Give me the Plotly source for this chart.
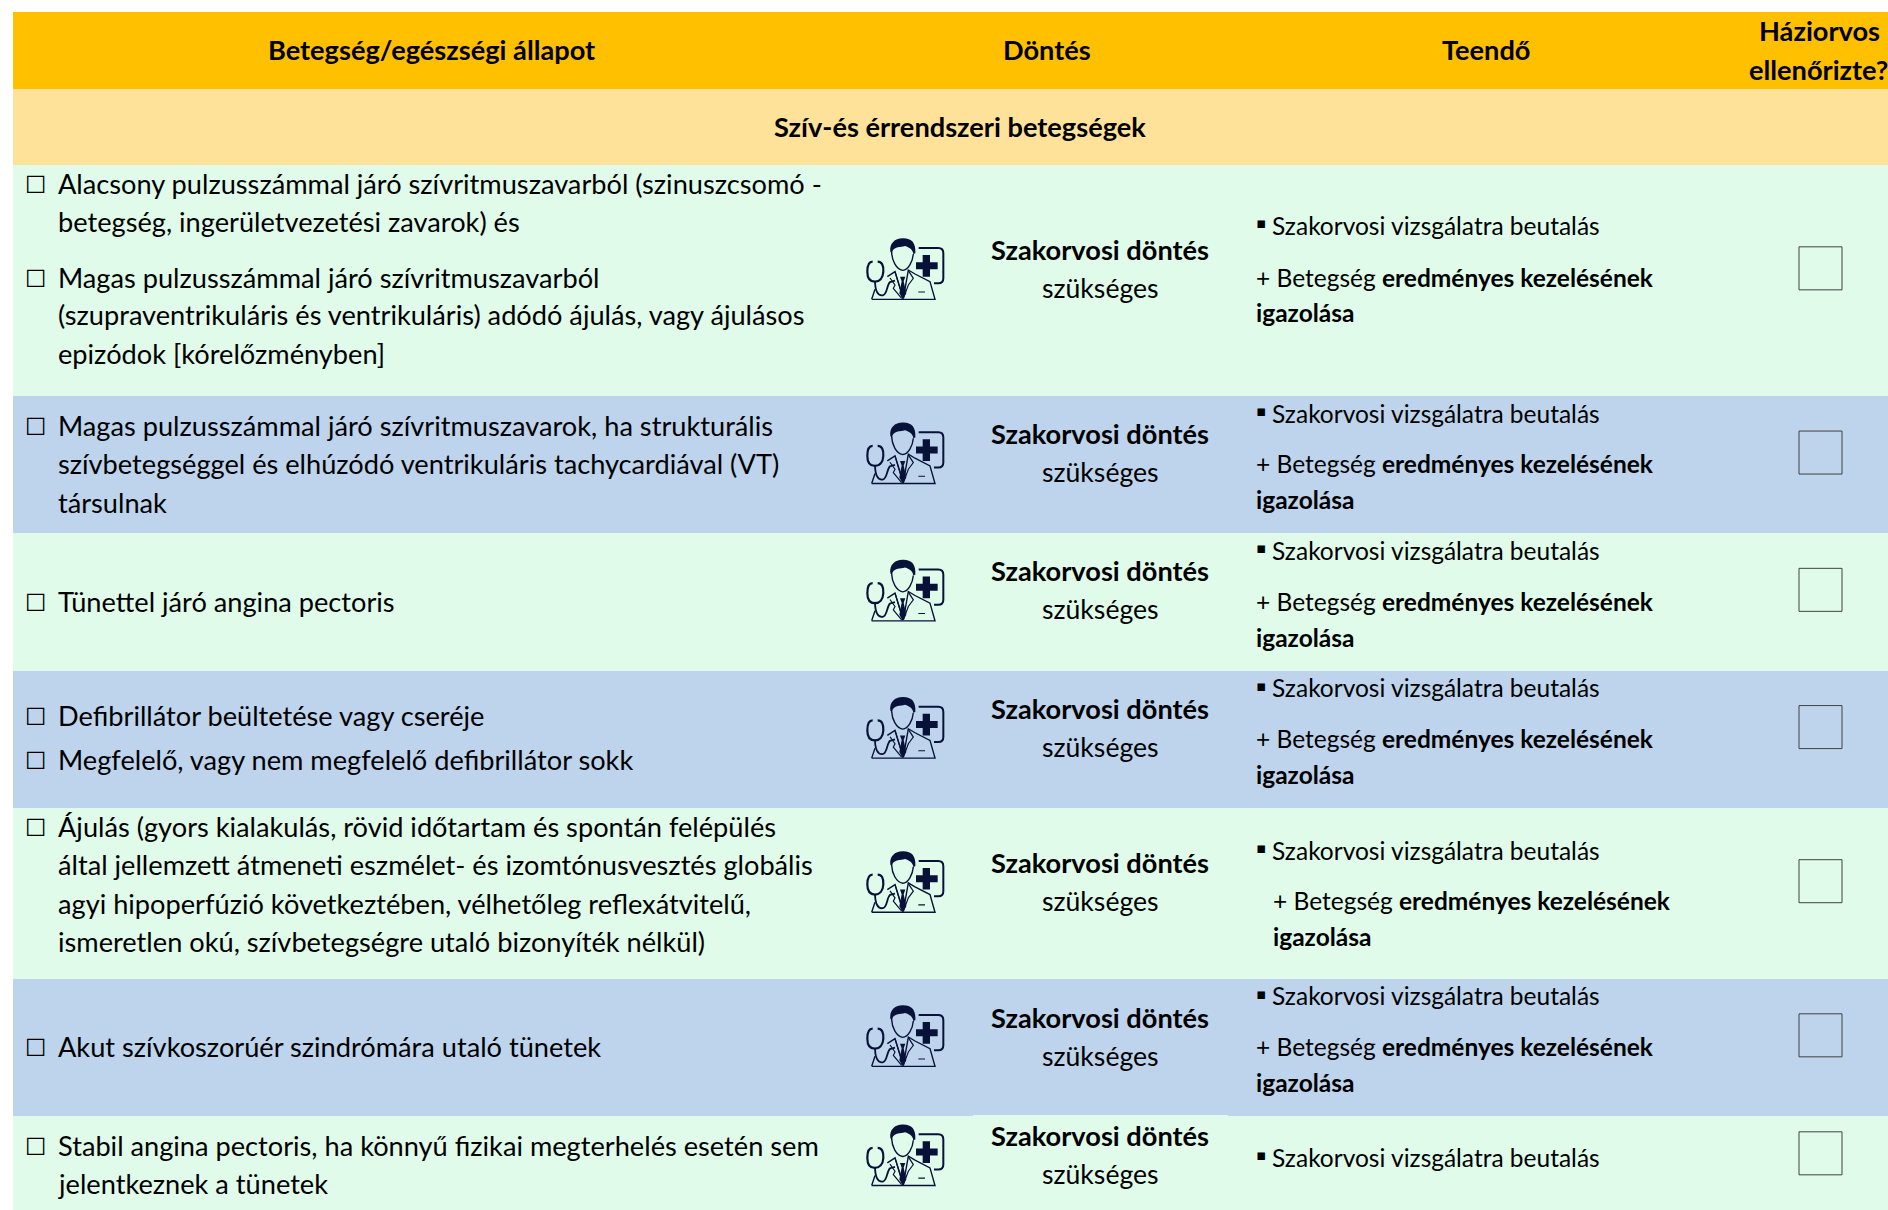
import plotly.graph_objects as go

# ---------- content ----------
headers = ["Betegség/egészségi állapot", "Döntés", "Teendő", "Háziorvos", "ellenőrizte?"]
section_title = "Szív-és érrendszeri betegségek"
decision_bold = "Szakorvosi döntés"
decision_plain = "szükséges"
action_referral = "Szakorvosi vizsgálatra beutalás"
action_proof_1 = "+ Betegség <b>eredményes kezelésének</b>"
action_proof_2 = "<b>igazolása</b>"
bullet_glyph = "▪"
check_glyph = "☐"

condition_1 = [(True, "Alacsony pulzusszámmal járó szívritmuszavarból (szinuszcsomó -"),
               (False, "betegség, ingerületvezetési zavarok) és"),
               (True, "Magas pulzusszámmal járó szívritmuszavarból"),
               (False, "(szupraventrikuláris és ventrikuláris) adódó ájulás, vagy ájulásos"),
               (False, "epizódok [kórelőzményben]")]
condition_2 = [(True, "Magas pulzusszámmal járó szívritmuszavarok, ha strukturális"),
               (False, "szívbetegséggel és elhúzódó ventrikuláris tachycardiával (VT)"),
               (False, "társulnak")]
condition_3 = [(True, "Tünettel járó angina pectoris")]
condition_4 = [(True, "Defibrillátor beültetése vagy cseréje"),
               (True, "Megfelelő, vagy nem megfelelő defibrillátor sokk")]
condition_5 = [(True, "Ájulás (gyors kialakulás, rövid időtartam és spontán felépülés"),
               (False, "által jellemzett átmeneti eszmélet- és izomtónusvesztés globális"),
               (False, "agyi hipoperfúzió következtében, vélhetőleg reflexátvitelű,"),
               (False, "ismeretlen okú, szívbetegségre utaló bizonyíték nélkül)")]
condition_6 = [(True, "Akut szívkoszorúér szindrómára utaló tünetek")]
condition_7 = [(True, "Stabil angina pectoris, ha könnyű fizikai megterhelés esetén sem"),
               (False, "jelentkeznek a tünetek")]
conditions = [condition_1, condition_2, condition_3, condition_4, condition_5, condition_6, condition_7]
has_proof = [True, True, True, True, True, True, False]

# ---------- layout (page pixels) ----------
S = 1888 / 1568
W, H = 1888, 1210
LEFT = 13
band_edges = [12, 89, 165, 396, 533, 671, 808, 979, 1116, 1210]
COL_HEADER, COL_SECTION, COL_GREEN, COL_BLUE = "#FFC000", "#FFE299", "#E0FBEA", "#BDD4EC"
band_colors = [COL_HEADER, COL_SECTION, COL_GREEN, COL_BLUE, COL_GREEN, COL_BLUE, COL_GREEN, COL_BLUE, COL_GREEN]
INK = "#000000"
FONT = "Lato"
SIZE_L, SIZE_R, SIZE_H, SIZE_D = 27.2, 24.5, 27.2, 26.6

cond_y = [[153, 185, 231, 262, 294], [354, 386, 418], [500], [595, 632],
          [687, 719, 751, 783], [870], [952, 984]]
dec_y = [(208, 240), (361, 393), (475, 507), (589, 621), (717, 749), (846, 878), (944, 976)]
act_y = [(188, 231, 260), (344, 386, 416), (458, 500, 530), (572, 614, 644),
         (707, 749, 779), (828, 870, 900), (962,)]
act_indent = [0, 0, 0, 0, 14, 0, 0]
box_top = [205, 358, 472, 586, 714, 842, 940]
icon_top = [198, 351, 465, 579, 707, 835, 934]
TXT_DY = -1.0

fig = go.Figure()
shapes, notes = [], []

def text(x, y, s, size, anchor="left", font=FONT):
    notes.append(dict(x=x, y=y, text=s, showarrow=False, xanchor=anchor, yanchor="middle",
                      xref="x", yref="y", borderpad=0,
                      font=dict(family=font, size=size, color=INK)))

for i, col in enumerate(band_colors):
    shapes.append(dict(type="rect", x0=LEFT, x1=W, y0=band_edges[i], y1=band_edges[i + 1],
                       fillcolor=col, line_width=0, layer="below"))
# pale seam above the last decision cell
shapes.append(dict(type="rect", x0=973, x1=1228, y0=1115, y1=1117, fillcolor=COL_GREEN,
                   line_width=0, layer="below"))

text(431, 49, "<b>%s</b>" % headers[0], SIZE_H, "center")
text(1047, 49, "<b>%s</b>" % headers[1], SIZE_H, "center")
text(1486, 49, "<b>%s</b>" % headers[2], SIZE_H, "center")
text(1819, 30.5, "<b>%s</b>" % headers[3], SIZE_H, "center")
text(1818, 69.5, "<b>%s</b>" % headers[4], SIZE_H, "center")
text(960, 126, "<b>%s</b>" % section_title, SIZE_H, "center")

NAVY = "#081238"
def P(ox, oy, d):
    """translate an icon path written in icon units (1/3 px) to page coords"""
    out = []
    for tok in d.split():
        if tok.isalpha():
            out.append(tok)
        else:
            a, b = tok.split(",")
            out.append("%.2f,%.2f" % (ox + float(a) / 3, oy + float(b) / 3))
    return " ".join(out)

ICON_FILLED = [
    "M 151,125 C 148,100 165,84 190,85 C 215,86 228,98 226,130 L 220,132 C 218,118 208,112 195,108 C 180,112 165,110 158,122 L 156,132 Z",
    "M 248,135 L 270,135 L 270,157 L 293,157 L 293,178 L 270,178 L 270,200 L 248,200 L 248,178 L 228,178 L 228,157 L 248,157 Z",
    "M 180,200 L 196,200 L 191,214 L 199,250 L 188,268 L 178,250 L 185,214 Z",
]
ICON_STROKED = [
    ("M 236,114 L 295,114 C 305,114 310,120 310,130 L 310,205 C 310,215 305,220 295,220 L 282,220", 2.0),
    ("M 155,128 C 156,150 168,178 188,181 C 205,180 218,155 220,132", 1.4),
    ("M 113,155 C 125,155 131,165 130,185 C 129,205 118,215 105,215 C 90,215 82,205 82,185 C 82,165 88,155 98,155", 2.2),
    ("M 105,215 C 106,240 112,258 128,256 C 142,254 140,225 150,216 L 165,212", 1.8),
    ("M 95,268 L 285,268 L 270,215 L 225,192 L 205,180 L 190,265 L 165,185 L 142,200 M 95,268 L 105,238", 1.4),
    ("M 165,185 L 188,262 M 205,182 L 220,205 L 205,225 L 190,265 M 235,246 L 255,246 M 150,204 L 165,225 L 160,235 L 185,265", 1.2),
]

for r, lines in enumerate(conditions):
    for (boxed, line), yy in zip(lines, cond_y[r]):
        if boxed:
            text(36, yy * S + 0.5, check_glyph, 24, "center", "DejaVu Sans")
        text(56.5, yy * S + TXT_DY, line, SIZE_L)
    text(1100, dec_y[r][0] * S + TXT_DY, "<b>%s</b>" % decision_bold, SIZE_H, "center")
    text(1100, dec_y[r][1] * S + TXT_DY, decision_plain, SIZE_D, "center")
    ind = act_indent[r] * S
    text(1255, act_y[r][0] * S - 3, bullet_glyph, 15, "left", "DejaVu Sans")
    text(1270.5, act_y[r][0] * S + TXT_DY, action_referral, SIZE_R)
    if has_proof[r]:
        text(1255 + ind, act_y[r][1] * S + TXT_DY, action_proof_1, SIZE_R)
        text(1255 + ind, act_y[r][2] * S + TXT_DY, action_proof_2, SIZE_R)
    y0 = box_top[r] * S
    shapes.append(dict(type="rect", x0=1799, x1=1842, y0=y0, y1=y0 + 43, fillcolor="rgba(0,0,0,0)",
                       line=dict(color="#404040", width=1), layer="above"))
    ox, oy = 840, icon_top[r] * S + 238 - 238.4 - 28
    for d in ICON_FILLED:
        shapes.append(dict(type="path", path=P(ox, oy, d), fillcolor=NAVY, line_width=0, layer="above"))
    for d, w in ICON_STROKED:
        shapes.append(dict(type="path", path=P(ox, oy, d), fillcolor="rgba(0,0,0,0)",
                           line=dict(color=NAVY, width=w), layer="above"))

fig.update_layout(width=W, height=H, margin=dict(l=0, r=0, t=0, b=0), showlegend=False,
                  paper_bgcolor="white", plot_bgcolor="white", shapes=shapes, annotations=notes,
                  xaxis=dict(range=[0, W], visible=False, fixedrange=True),
                  yaxis=dict(range=[H, 0], visible=False, fixedrange=True))
fig.write_html("out.html", config=dict(displayModeBar=False),
               post_script="document.body.style.margin='0';document.body.style.overflow='hidden';")
